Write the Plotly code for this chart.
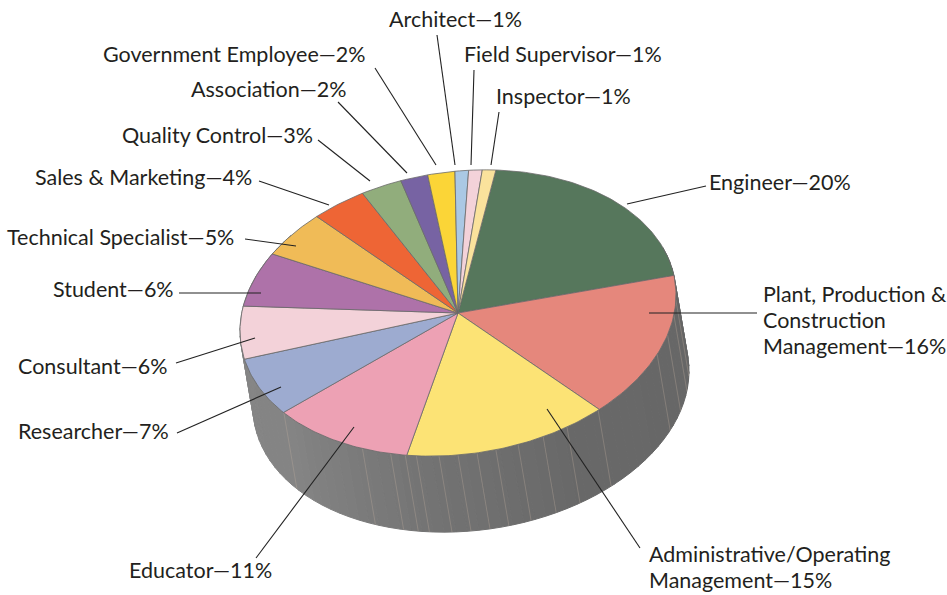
import numpy as np
import plotly.graph_objects as go

# ---- data ----
categories = ["Engineer", "Plant, Production &<br>Construction<br>Management",
              "Administrative/Operating<br>Management", "Educator", "Researcher",
              "Consultant", "Student", "Technical Specialist", "Sales & Marketing",
              "Quality Control", "Association", "Government Employee", "Architect",
              "Field Supervisor", "Inspector"]
shares = [20, 16, 15, 11, 7, 6, 6, 5, 4, 3, 2, 2, 1, 1, 1]
colors = ["#56775C", "#E5877C", "#FCE375", "#EDA1B4", "#9DABD0", "#F3D2D9", "#AE72A9",
          "#F0BB57", "#EE6535", "#91AD7C", "#7763A3", "#FBD537", "#AAC8E4", "#F3D2D9", "#FAE29C"]
# label anchor (left edge, vertical middle of first line) for each category
label_x = [707, 761, 647, 127, 16, 16, 51, 5, 33, 120, 189, 101, 387, 462, 494]
label_y = [182, 294, 554, 570, 431, 366, 289, 237, 177, 135, 89, 54, 19, 54, 96]
LINE_GAP = 26
# leader lines: label end -> slice end
lead_x0 = [706, 757, 640, 256, 177, 176, 179, 245, 259, 318, 338, 375, 437, 474, 499]
lead_y0 = [186, 313, 548, 558, 433, 363, 293, 239, 181, 140, 102, 68, 35, 70, 112]
lead_x1 = [627, 649, 547, 354, 281, 255, 261, 296, 329, 370, 407, 436, 455, 471, 491]
lead_y1 = [204, 313, 409, 427, 387, 338, 293, 246, 205, 181, 173, 165, 165, 165, 165]
# wall seam angles in degrees
seams = [-2, -8, -16, -24, -50, -60, -67, -74, -80, -85, -90, -95, -101, -104, -108, -116, -143]

# ---- pie projection ----
CX, CY, RX, RY, SK = 458, 313, 218, 142, -18
DX, DY = 13, 76
START = 80.0


def rim(deg, dx=0, dy=0):
    t = np.radians(deg)
    return CX + dx + RX * np.cos(t), CY + dy - RY * np.sin(t) + SK * np.cos(t)


fig = go.Figure()


def poly(xs, ys, fill, line=None, width=0):
    fig.add_trace(go.Scatter(x=xs, y=ys, mode="lines", fill="toself", fillcolor=fill,
                             line=dict(color=line or fill, width=width),
                             hoverinfo="skip", showlegend=False))


# side wall: facets with a grey gradient
edges = np.arange(20, -222, -3.0)
for a0, a1 in zip(edges[:-1], edges[1:]):
    ts = np.linspace(a0, a1, 3)
    tx, ty = rim(ts)
    bx, by = rim(ts[::-1], DX, DY)
    g = int(np.interp(-(a0 + a1) / 2, [-20, 60, 100, 140, 220], [102, 105, 116, 132, 136]))
    c = f"rgb({g},{g},{g})"
    poly(np.r_[tx, bx, tx[0]], np.r_[ty, by, ty[0]], c, c, 1)

# faint seams on the wall
for s in seams:
    x0, y0 = rim(s)
    x1, y1 = rim(s, DX, DY)
    fig.add_trace(go.Scatter(x=[x0, x1], y=[y0, y1], mode="lines",
                             line=dict(color="rgba(196,176,160,0.4)", width=0.8),
                             hoverinfo="skip", showlegend=False))

# top slices
total = sum(shares)
ang = START
for v, col in zip(shares, colors):
    sweep = 360.0 * v / total
    ts = np.linspace(ang, ang - sweep, max(int(sweep), 2) + 1)
    rx, ry = rim(ts)
    poly(np.r_[CX, rx, CX], np.r_[CY, ry, CY], col, "#6a6a6a", 0.8)
    ang -= sweep

# leader lines
for x0, y0, x1, y1 in zip(lead_x0, lead_y0, lead_x1, lead_y1):
    fig.add_shape(type="line", x0=x0, y0=y0, x1=x1, y1=y1,
                  line=dict(color="#222222", width=1.1), layer="above")

# labels (one annotation per line so the line spacing can follow the reference)
for cat, v, x, y in zip(categories, shares, label_x, label_y):
    lines = f"{cat}—{v}%".split("<br>")
    for i, line in enumerate(lines):
        fig.add_annotation(x=x, y=y + i * LINE_GAP, text=line, showarrow=False, xanchor="left",
                           yanchor="middle", align="left",
                           font=dict(family="Lato", size=21.5, color="#231F20"))

fig.update_layout(width=947, height=595, margin=dict(l=0, r=0, t=0, b=0),
                  paper_bgcolor="white", plot_bgcolor="white",
                  xaxis=dict(range=[0, 947], visible=False, fixedrange=True),
                  yaxis=dict(range=[595, 0], visible=False, fixedrange=True))
fig.write_html("out.html", config={"displayModeBar": False},
               post_script="document.body.style.margin='0';document.documentElement.style.overflow='hidden';")
